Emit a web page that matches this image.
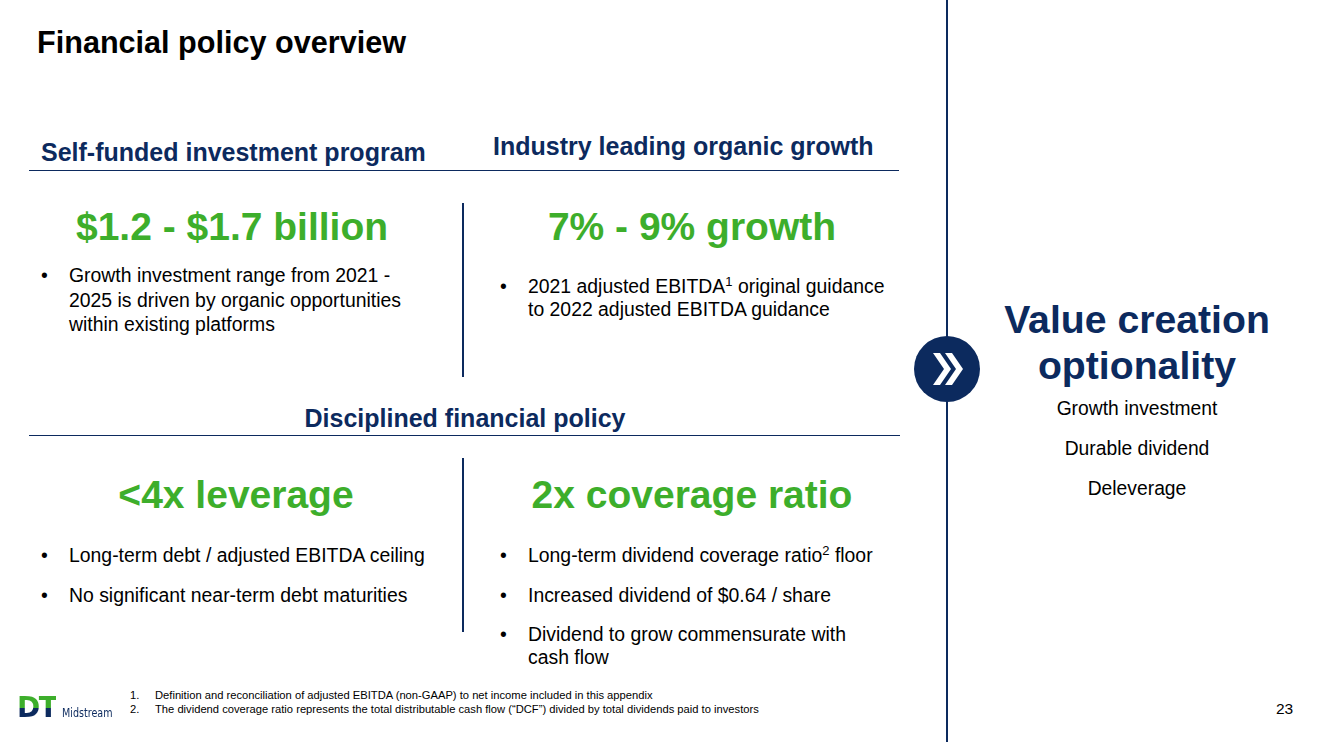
<!DOCTYPE html>
<html>
<head>
<meta charset="utf-8">
<script src="https://cdn.jsdelivr.net/npm/chart.js@4"></script>
<style>
  html, body { margin:0; padding:0; background:#fff; }
  body { width:1322px; height:742px; position:relative; overflow:hidden;
         font-family:"Liberation Sans", Arial, sans-serif; color:#000; }
  .abs { position:absolute; white-space:nowrap; }
  .navy { color:#0c2a5e; }
  .green { color:#3dae2b; }
  .title { left:37px; top:24px; font-size:30.6px; font-weight:bold; line-height:36px; }
  .head { font-size:25px; font-weight:bold; line-height:26px; }
  .big { font-size:39px; font-weight:bold; line-height:44px; text-align:center; }
  .hline { position:absolute; height:1px; background:#0c2a5e; }
  .vline { position:absolute; width:2px; background:#0c2a5e; }
  ul.b { position:absolute; margin:0; padding:0; list-style:none; font-size:19.4px; line-height:24.5px; }
  ul.b li { position:relative; padding-left:28px; }
  ul.b li::before { content:"\2022"; position:absolute; left:0; }
  .right { font-size:19.3px; text-align:center; }
  .foot { font-size:11.2px; line-height:14px; }
  sup { font-size:13px; line-height:0; }
</style>
</head>
<body>
<div class="abs title">Financial policy overview</div>

<div class="abs head navy" style="left:41px; top:139px;">Self-funded investment program</div>
<div class="abs head navy" style="left:493px; top:133px;">Industry leading organic growth</div>
<div class="hline" style="left:29px; top:170px; width:870px;"></div>

<div class="abs big green" id="invest" style="left:32px; width:400px; top:205px;"></div>
<div class="abs big green" id="growth" style="left:492px; width:400px; top:205px;"></div>
<div class="vline" style="left:462px; top:203px; height:174px;"></div>

<ul class="b" style="left:41px; top:263px; width:400px;">
  <li id="investNote"></li>
</ul>
<ul class="b" style="left:500px; top:275px; width:400px;">
  <li style="line-height:23px;">2021 adjusted EBITDA<sup>1</sup> original guidance<br>to 2022 adjusted EBITDA guidance</li>
</ul>

<div class="abs head navy" style="left:0; width:930px; text-align:center; top:405px;">Disciplined financial policy</div>
<div class="hline" style="left:29px; top:435px; width:871px;"></div>

<div class="abs big green" id="lev" style="left:36px; width:400px; top:473px;"></div>
<div class="abs big green" id="cov" style="left:492px; width:400px; top:473px;"></div>
<div class="vline" style="left:462px; top:458px; height:174px;"></div>

<ul class="b" style="left:41px; top:543px;">
  <li>Long-term debt / adjusted EBITDA ceiling</li>
  <li style="margin-top:15.5px;">No significant near-term debt maturities</li>
</ul>
<ul class="b" style="left:500px; top:543px;">
  <li>Long-term dividend coverage ratio<sup>2</sup> floor</li>
  <li style="margin-top:15.5px;" id="divNote"></li>
  <li style="margin-top:15.5px; line-height:23px;">Dividend to grow commensurate with<br>cash flow</li>
</ul>

<div class="vline" style="left:946px; top:0; height:742px;"></div>
<svg class="abs" style="left:913px; top:335px;" width="68" height="68" viewBox="0 0 68 68">
  <circle cx="34" cy="34" r="33" fill="#0c2a5e"/>
  <polygon points="20,18 27,18 38,34 27,50 20,50 31,34" fill="#fff"/>
  <polygon points="32,18 39,18 50,34 39,50 32,50 43,34" fill="#fff"/>
</svg>

<div class="abs navy" style="left:987px; width:300px; top:297px; text-align:center; font-size:39.2px; font-weight:bold; line-height:46px;">Value creation<br>optionality</div>
<div class="abs right" id="pillars" style="left:987px; width:300px; top:389px; line-height:40px;"></div>

<div class="abs" style="left:17px; top:694px; font-size:28px; font-weight:900; letter-spacing:-1.5px; line-height:28px; height:28px;
  background:linear-gradient(#3dae2b 0, #3dae2b 50%, #0c2a5e 50%, #0c2a5e 100%); -webkit-background-clip:text; background-clip:text; color:transparent; font-family:'DejaVu Sans', sans-serif;">DT</div>
<div class="abs navy" style="left:62px; top:705px; font-size:12.5px; font-family:'Liberation Sans Narrow','DejaVu Sans Condensed',sans-serif; transform:scaleX(0.85); transform-origin:left;">Midstream</div>

<div class="abs foot" style="left:130px; top:688px;">
  <div><span style="display:inline-block; width:25px;">1.</span>Definition and reconciliation of adjusted EBITDA (non-GAAP) to net income included in this appendix</div>
  <div><span style="display:inline-block; width:25px;">2.</span>The dividend coverage ratio represents the total distributable cash flow (“DCF”) divided by total dividends paid to investors</div>
</div>
<div class="abs" style="left:1276px; top:700px; font-size:15.5px;">23</div>

<script>
// headline figures
const investRange = [1.2, 1.7];        // $ billion, 2021-2025
const investYears = [2021, 2025];
const growthRange = [7, 9];            // % growth
const leverageMax = 4;                 // x debt / adj. EBITDA
const coverageMin = 2;                 // x coverage
const dividendPerShare = 0.64;         // $ / share
const pillars = ["Growth investment", "Durable dividend", "Deleverage"];

document.getElementById('invest').textContent =
  '$' + investRange[0].toFixed(1) + ' - $' + investRange[1].toFixed(1) + ' billion';
document.getElementById('growth').textContent =
  growthRange[0] + '% - ' + growthRange[1] + '% growth';
document.getElementById('lev').textContent = '<' + leverageMax + 'x leverage';
document.getElementById('cov').textContent = coverageMin + 'x coverage ratio';
document.getElementById('investNote').innerHTML =
  'Growth investment range from ' + investYears[0] + ' -<br>' + investYears[1] +
  ' is driven by organic opportunities<br>within existing platforms';
document.getElementById('divNote').textContent =
  'Increased dividend of $' + dividendPerShare.toFixed(2) + ' / share';
document.getElementById('pillars').innerHTML = pillars.join('<br>');
</script>
</body>
</html>
